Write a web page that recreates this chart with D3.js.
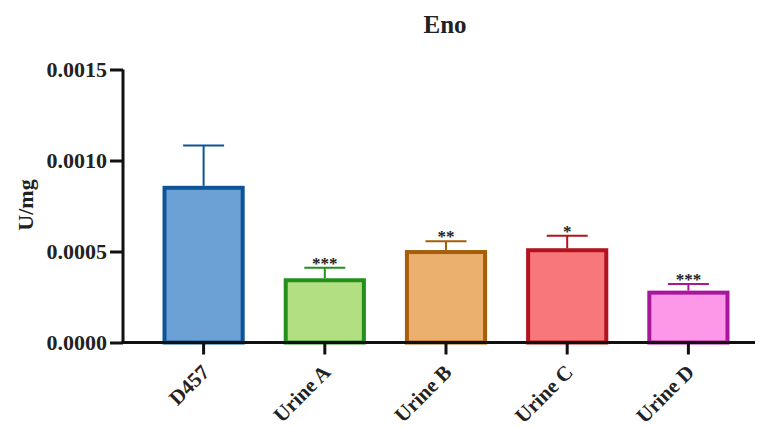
<!DOCTYPE html>
<html>
<head>
<meta charset="utf-8">
<script src="https://cdn.jsdelivr.net/npm/d3@7"></script>
<style>
    body { margin: 0; background: #fff; }
    text { font-family: "Liberation Serif", "Times New Roman", serif; font-weight: bold; fill: #222; }
</style>
</head>
<body>
<svg id="chart" width="759" height="428"></svg>
<script>
// chart data
let groups = ['D457', 'Urine A', 'Urine B', 'Urine C', 'Urine D'];
let means = [0.000850, 0.000342, 0.000497, 0.000507, 0.000274];
let errors = [0.000233, 0.000069, 0.000059, 0.000080, 0.000047];
let stars = ['', '***', '**', '*', '***'];
let fills = ['#6ca1d6', '#b1df82', '#ecb06e', '#f8777b', '#fd98e8'];
let strokes = ['#0c5497', '#22901a', '#a65e0a', '#b1141e', '#a8179b'];
let yTicks = [0, 0.0005, 0.0010, 0.0015];

let svg = d3.select('#chart');

// scales
let x = d3.scaleBand()
    .domain( groups )
    .range( [143, 749] )
    .paddingInner( 0.355 )
    .paddingOuter( 0.1775 );
let y = d3.scaleLinear()
    .domain( [0, 0.0015] )
    .range( [342.5, 69.5] );

let rows = groups.map( function(g, i) {
    return {name: g, mean: means[i], err: errors[i], star: stars[i], fill: fills[i], stroke: strokes[i]};
} );

// bars
svg.append('g').attr('id', 'bars')
    .selectAll('rect')
    .data( rows )
    .enter().append('rect')
    .attr( 'x', function(d) {return x(d.name);} )
    .attr( 'y', function(d) {return y(d.mean);} )
    .attr( 'width', x.bandwidth() )
    .attr( 'height', function(d) {return y(0) - y(d.mean);} )
    .attr( 'fill', function(d) {return d.fill;} )
    .attr( 'stroke', function(d) {return d.stroke;} )
    .attr( 'stroke-width', 4 );

// error bars (upper only)
let cap = 20.5;
let err = svg.append('g').attr('id', 'errors')
    .selectAll('g')
    .data( rows )
    .enter().append('g')
    .attr( 'stroke', function(d) {return d.stroke;} )
    .attr( 'stroke-width', 2 );
err.append('line')
    .attr( 'x1', function(d) {return x(d.name) + x.bandwidth()/2;} )
    .attr( 'x2', function(d) {return x(d.name) + x.bandwidth()/2;} )
    .attr( 'y1', function(d) {return y(d.mean) - 2;} )
    .attr( 'y2', function(d) {return y(d.mean + d.err);} );
err.append('line')
    .attr( 'x1', function(d) {return x(d.name) + x.bandwidth()/2 - cap;} )
    .attr( 'x2', function(d) {return x(d.name) + x.bandwidth()/2 + cap;} )
    .attr( 'y1', function(d) {return y(d.mean + d.err);} )
    .attr( 'y2', function(d) {return y(d.mean + d.err);} );

// significance stars
svg.append('g').attr('id', 'stars')
    .selectAll('text')
    .data( rows )
    .enter().append('text')
    .text( function(d) {return d.star;} )
    .attr( 'text-anchor', 'middle' )
    .attr( 'font-size', 17 )
    .attr( 'x', function(d) {return x(d.name) + x.bandwidth()/2;} )
    .attr( 'y', function(d) {return y(d.mean + d.err) + 1;} );

// y axis
let yAxis = svg.append('g')
    .attr( 'transform', 'translate(123,0)' )
    .call( d3.axisLeft(y).tickValues(yTicks).tickFormat(d3.format('.4f')).tickSize(13).tickPadding(3) );
yAxis.select('.domain').attr('stroke', '#111').attr('stroke-width', 3).attr('d', 'M0,' + y(0.0015) + 'V' + (y(0) + 1.5));
yAxis.selectAll('.tick line').attr('stroke', '#111').attr('stroke-width', 3);
yAxis.selectAll('.tick text').attr('font-size', 22).attr('fill', '#222').attr('font-family', null);

// x axis
let xAxis = svg.append('g')
    .attr( 'transform', 'translate(0,' + y(0) + ')' )
    .call( d3.axisBottom(x).tickSize(12).tickSizeOuter(0) );
xAxis.select('.domain').attr('stroke', '#111').attr('stroke-width', 3).attr('d', 'M121.5,0H755');
xAxis.selectAll('.tick line').attr('stroke', '#111').attr('stroke-width', 3);
xAxis.selectAll('.tick text')
    .attr( 'font-size', 21 )
    .attr( 'fill', '#222' )
    .attr( 'font-family', null )
    .attr( 'text-anchor', 'end' )
    .attr( 'dy', null )
    .attr( 'y', 0 )
    .attr( 'transform', 'translate(7,31) rotate(-45)' );

// axis title and chart title
svg.append('text')
    .text( 'U/mg' )
    .attr( 'text-anchor', 'middle' )
    .attr( 'font-size', 22 )
    .attr( 'transform', 'translate(33,205) rotate(-90)' );

svg.append('text')
    .text( 'Eno' )
    .attr( 'text-anchor', 'middle' )
    .attr( 'font-size', 25 )
    .attr( 'x', 445 )
    .attr( 'y', 33 );
</script>
</body>
</html>
